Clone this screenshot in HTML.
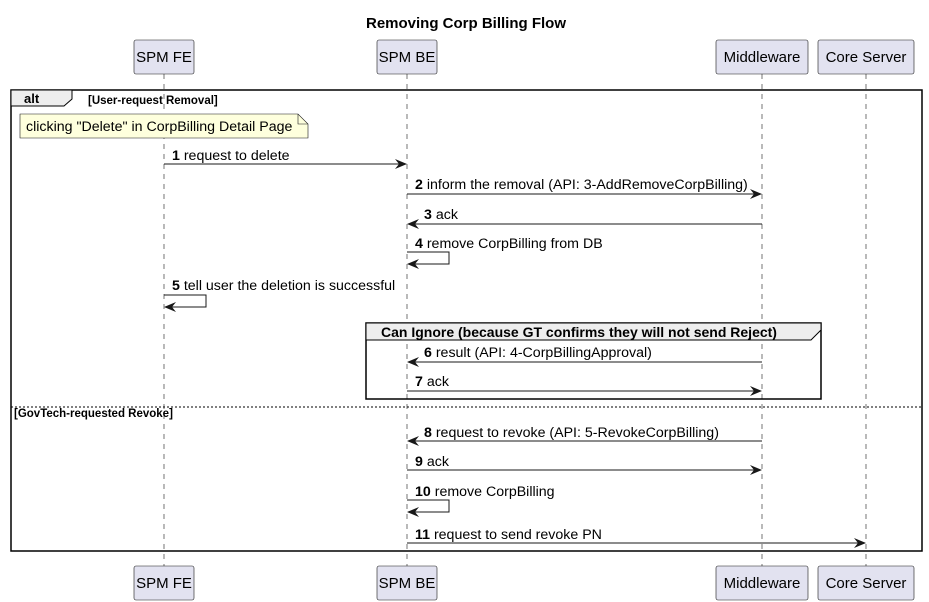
<!DOCTYPE html>
<html><head><style>body{margin:0;background:#fff}svg{display:block}text{font-family:"Liberation Sans",sans-serif}</style></head><body>
<svg width="929" height="602" viewBox="0 0 929 602" xmlns="http://www.w3.org/2000/svg">
<defs><marker id="a" viewBox="0 0 12 10" refX="11" refY="5" markerWidth="12" markerHeight="10" orient="auto" markerUnits="userSpaceOnUse"><path d="M0,0 L12,5 L0,10 L4,5 Z" fill="#181818"/></marker></defs>
<text x="466" y="28" font-size="15" font-weight="bold" text-anchor="middle">Removing Corp Billing Flow</text>
<g stroke="#181818" stroke-dasharray="5,5" stroke-width="0.6">
<line x1="164" y1="74" x2="164" y2="566"/><line x1="407" y1="74" x2="407" y2="566"/><line x1="762" y1="74" x2="762" y2="566"/><line x1="866" y1="74" x2="866" y2="566"/></g>
<g fill="#E2E2F0" stroke="#181818" stroke-width="0.6">
<rect x="134" y="40" width="60" height="34" rx="2"/><rect x="377" y="40" width="60" height="34" rx="2"/><rect x="716" y="40" width="92" height="34" rx="2"/><rect x="818" y="40" width="96" height="34" rx="2"/>
<rect x="134" y="566" width="60" height="34" rx="2"/><rect x="377" y="566" width="60" height="34" rx="2"/><rect x="716" y="566" width="92" height="34" rx="2"/><rect x="818" y="566" width="96" height="34" rx="2"/></g>
<g font-size="15" text-anchor="middle">
<text x="164" y="62">SPM FE</text><text x="407" y="62">SPM BE</text><text x="762" y="62">Middleware</text><text x="866" y="62">Core Server</text>
<text x="164" y="588">SPM FE</text><text x="407" y="588">SPM BE</text><text x="762" y="588">Middleware</text><text x="866" y="588">Core Server</text></g>
<rect x="11" y="90" width="911" height="461" fill="none" stroke="#000" stroke-width="1.5"/>
<path d="M11,90 L72,90 L72,99 L64,106 L11,106 Z" fill="#EEE" stroke="#000" stroke-width="1"/>
<text x="24" y="103" font-size="13" font-weight="bold">alt</text>
<text x="88" y="104" font-size="11.5" font-weight="bold">[User-request Removal]</text>
<path d="M20,114 L298,114 L308,124 L308,138 L20,138 Z" fill="#FEFFDD" stroke="#181818" stroke-width="0.6"/>
<path d="M298,114 L298,124 L308,124" fill="none" stroke="#181818" stroke-width="0.6"/>
<text x="26" y="131" font-size="14.2">clicking "Delete" in CorpBilling Detail Page</text>
<g stroke="#181818" stroke-width="1" fill="none">
<line x1="164" y1="164" x2="406" y2="164" marker-end="url(#a)"/>
<line x1="407" y1="194" x2="761" y2="194" marker-end="url(#a)"/>
<line x1="762" y1="224" x2="408" y2="224" marker-end="url(#a)"/>
<polyline points="407,252 449,252 449,264 408,264" marker-end="url(#a)"/>
<polyline points="164,295 206,295 206,307 165,307" marker-end="url(#a)"/>
<line x1="762" y1="362" x2="408" y2="362" marker-end="url(#a)"/>
<line x1="407" y1="391" x2="761" y2="391" marker-end="url(#a)"/>
<line x1="762" y1="441" x2="408" y2="441" marker-end="url(#a)"/>
<line x1="407" y1="470" x2="761" y2="470" marker-end="url(#a)"/>
<polyline points="407,500 449,500 449,512 408,512" marker-end="url(#a)"/>
<line x1="407" y1="543" x2="865" y2="543" marker-end="url(#a)"/>
</g>
<g font-size="14.2">
<text x="172" y="160"><tspan font-weight="bold">1</tspan> request to delete</text>
<text x="415" y="189"><tspan font-weight="bold">2</tspan> inform the removal (API: 3-AddRemoveCorpBilling)</text>
<text x="424" y="219"><tspan font-weight="bold">3</tspan> ack</text>
<text x="415" y="248"><tspan font-weight="bold">4</tspan> remove CorpBilling from DB</text>
<text x="172" y="290"><tspan font-weight="bold">5</tspan> tell user the deletion is successful</text>
<text x="424" y="357"><tspan font-weight="bold">6</tspan> result (API: 4-CorpBillingApproval)</text>
<text x="415" y="386"><tspan font-weight="bold">7</tspan> ack</text>
<text x="424" y="437"><tspan font-weight="bold">8</tspan> request to revoke (API: 5-RevokeCorpBilling)</text>
<text x="415" y="466"><tspan font-weight="bold">9</tspan> ack</text>
<text x="415" y="496"><tspan font-weight="bold">10</tspan> remove CorpBilling</text>
<text x="415" y="539"><tspan font-weight="bold">11</tspan> request to send revoke PN</text>
</g>
<rect x="366" y="323" width="455" height="76" fill="none" stroke="#000" stroke-width="1.5"/>
<path d="M366,323 L821,323 L821,330 L811,340 L366,340 Z" fill="#EEE" stroke="#000" stroke-width="1"/>
<text x="381" y="337" font-size="14" font-weight="bold">Can Ignore (because GT confirms they will not send Reject)</text>
<line x1="11" y1="407" x2="922" y2="407" stroke="#000" stroke-width="1" stroke-dasharray="2,2"/>
<text x="14" y="417" font-size="11.5" font-weight="bold">[GovTech-requested Revoke]</text>
</svg>
</body></html>
